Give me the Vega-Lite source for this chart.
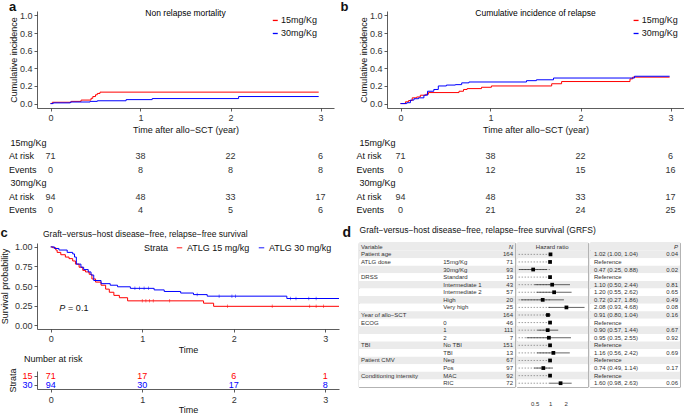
{
"$schema": "https://vega.github.io/schema/vega-lite/v6.json",
"background": "white",
"padding": {"left": 0, "top": 1, "right": 0, "bottom": 0},
"config": {
  "font": "Liberation Sans",
  "view": {"stroke": null},
  "axis": {"labelFontSize": 9, "titleFontSize": 9, "titleFontWeight": "normal", "labelColor": "#333", "titleColor": "#111", "domainColor": "#333", "tickColor": "#333", "tickSize": 3, "labelPadding": 2, "grid": false, "domainWidth": 0.8, "tickWidth": 0.8, "labelOverlap": false},
  "legend": {"labelFontSize": 9, "titleFontSize": 9, "titleFontWeight": "normal", "labelColor": "#111", "titleColor": "#111"},
  "title": {"color": "#111"}
},
"datasets": {
  "nrm": [
    {"g":"15mg/Kg","t":0,"v":0},{"g":"15mg/Kg","t":0.02,"v":0.015},{"g":"15mg/Kg","t":0.23,"v":0.025},{"g":"15mg/Kg","t":0.34,"v":0.04},{"g":"15mg/Kg","t":0.45,"v":0.06},{"g":"15mg/Kg","t":0.47,"v":0.08},{"g":"15mg/Kg","t":0.5,"v":0.1},{"g":"15mg/Kg","t":0.52,"v":0.115},{"g":"15mg/Kg","t":0.55,"v":0.13},{"g":"15mg/Kg","t":2.98,"v":0.13},
    {"g":"30mg/Kg","t":0,"v":0},{"g":"30mg/Kg","t":0.03,"v":0.008},{"g":"30mg/Kg","t":0.22,"v":0.018},{"g":"30mg/Kg","t":0.44,"v":0.025},{"g":"30mg/Kg","t":0.52,"v":0.032},{"g":"30mg/Kg","t":0.84,"v":0.045},{"g":"30mg/Kg","t":1.13,"v":0.057},{"g":"30mg/Kg","t":2.09,"v":0.08},{"g":"30mg/Kg","t":2.98,"v":0.08}
  ],
  "cir": [
    {"g":"15mg/Kg","t":0,"v":0},{"g":"15mg/Kg","t":0.055,"v":0.02},{"g":"15mg/Kg","t":0.09,"v":0.035},{"g":"15mg/Kg","t":0.13,"v":0.065},{"g":"15mg/Kg","t":0.18,"v":0.075},{"g":"15mg/Kg","t":0.22,"v":0.095},{"g":"15mg/Kg","t":0.28,"v":0.105},{"g":"15mg/Kg","t":0.31,"v":0.125},{"g":"15mg/Kg","t":0.65,"v":0.14},{"g":"15mg/Kg","t":0.7,"v":0.16},{"g":"15mg/Kg","t":0.74,"v":0.17},{"g":"15mg/Kg","t":0.9,"v":0.185},{"g":"15mg/Kg","t":1.01,"v":0.2},{"g":"15mg/Kg","t":1.68,"v":0.225},{"g":"15mg/Kg","t":1.79,"v":0.25},{"g":"15mg/Kg","t":2.55,"v":0.28},{"g":"15mg/Kg","t":2.58,"v":0.3},{"g":"15mg/Kg","t":2.99,"v":0.3},
    {"g":"30mg/Kg","t":0,"v":0},{"g":"30mg/Kg","t":0.07,"v":0.01},{"g":"30mg/Kg","t":0.11,"v":0.04},{"g":"30mg/Kg","t":0.15,"v":0.055},{"g":"30mg/Kg","t":0.2,"v":0.065},{"g":"30mg/Kg","t":0.26,"v":0.095},{"g":"30mg/Kg","t":0.3,"v":0.14},{"g":"30mg/Kg","t":0.37,"v":0.16},{"g":"30mg/Kg","t":0.42,"v":0.2},{"g":"30mg/Kg","t":0.51,"v":0.21},{"g":"30mg/Kg","t":0.61,"v":0.215},{"g":"30mg/Kg","t":0.68,"v":0.235},{"g":"30mg/Kg","t":0.76,"v":0.245},{"g":"30mg/Kg","t":1.4,"v":0.26},{"g":"30mg/Kg","t":1.51,"v":0.27},{"g":"30mg/Kg","t":1.7,"v":0.29},{"g":"30mg/Kg","t":2.6,"v":0.31},{"g":"30mg/Kg","t":2.99,"v":0.31}
  ],
  "riskA": [
    {"row":"h15","label":"15mg/Kg"},
    {"row":"r15","rl":"At risk"},{"row":"e15","rl":"Events"},{"row":"r30","rl":"At risk"},{"row":"e30","rl":"Events"},
    {"row":"r15","t":0,"n":71},{"row":"r15","t":1,"n":38},{"row":"r15","t":2,"n":22},{"row":"r15","t":3,"n":6},
    {"row":"e15","t":0,"n":0},{"row":"e15","t":1,"n":8},{"row":"e15","t":2,"n":8},{"row":"e15","t":3,"n":8},
    {"row":"h30","label":"30mg/Kg"},
    {"row":"r30","t":0,"n":94},{"row":"r30","t":1,"n":48},{"row":"r30","t":2,"n":33},{"row":"r30","t":3,"n":17},
    {"row":"e30","t":0,"n":0},{"row":"e30","t":1,"n":4},{"row":"e30","t":2,"n":5},{"row":"e30","t":3,"n":6}
  ],
  "riskB": [
    {"row":"h15","label":"15mg/Kg"},
    {"row":"r15","rl":"At risk"},{"row":"e15","rl":"Events"},{"row":"r30","rl":"At risk"},{"row":"e30","rl":"Events"},
    {"row":"r15","t":0,"n":71},{"row":"r15","t":1,"n":38},{"row":"r15","t":2,"n":22},{"row":"r15","t":3,"n":6},
    {"row":"e15","t":0,"n":0},{"row":"e15","t":1,"n":12},{"row":"e15","t":2,"n":15},{"row":"e15","t":3,"n":16},
    {"row":"h30","label":"30mg/Kg"},
    {"row":"r30","t":0,"n":94},{"row":"r30","t":1,"n":48},{"row":"r30","t":2,"n":33},{"row":"r30","t":3,"n":17},
    {"row":"e30","t":0,"n":0},{"row":"e30","t":1,"n":21},{"row":"e30","t":2,"n":24},{"row":"e30","t":3,"n":25}
  ],
  "grfs": [
    {"g":"ATLG 15 mg/kg","t":0,"v":1},{"g":"ATLG 15 mg/kg","t":0.02,"v":0.99},{"g":"ATLG 15 mg/kg","t":0.055,"v":0.96},{"g":"ATLG 15 mg/kg","t":0.07,"v":0.93},{"g":"ATLG 15 mg/kg","t":0.11,"v":0.9},{"g":"ATLG 15 mg/kg","t":0.16,"v":0.87},{"g":"ATLG 15 mg/kg","t":0.2,"v":0.85},{"g":"ATLG 15 mg/kg","t":0.24,"v":0.82},{"g":"ATLG 15 mg/kg","t":0.27,"v":0.78},{"g":"ATLG 15 mg/kg","t":0.31,"v":0.74},{"g":"ATLG 15 mg/kg","t":0.35,"v":0.7},{"g":"ATLG 15 mg/kg","t":0.38,"v":0.68},{"g":"ATLG 15 mg/kg","t":0.42,"v":0.65},{"g":"ATLG 15 mg/kg","t":0.45,"v":0.59},{"g":"ATLG 15 mg/kg","t":0.49,"v":0.55},{"g":"ATLG 15 mg/kg","t":0.55,"v":0.51},{"g":"ATLG 15 mg/kg","t":0.6,"v":0.46},{"g":"ATLG 15 mg/kg","t":0.64,"v":0.42},{"g":"ATLG 15 mg/kg","t":0.69,"v":0.38},{"g":"ATLG 15 mg/kg","t":0.75,"v":0.35},{"g":"ATLG 15 mg/kg","t":0.84,"v":0.31},{"g":"ATLG 15 mg/kg","t":1.67,"v":0.28},{"g":"ATLG 15 mg/kg","t":1.78,"v":0.24},{"g":"ATLG 15 mg/kg","t":3.15,"v":0.24},
    {"g":"ATLG 30 mg/kg","t":0,"v":1},{"g":"ATLG 30 mg/kg","t":0.04,"v":0.98},{"g":"ATLG 30 mg/kg","t":0.09,"v":0.96},{"g":"ATLG 30 mg/kg","t":0.18,"v":0.93},{"g":"ATLG 30 mg/kg","t":0.24,"v":0.91},{"g":"ATLG 30 mg/kg","t":0.26,"v":0.87},{"g":"ATLG 30 mg/kg","t":0.28,"v":0.78},{"g":"ATLG 30 mg/kg","t":0.33,"v":0.74},{"g":"ATLG 30 mg/kg","t":0.36,"v":0.71},{"g":"ATLG 30 mg/kg","t":0.41,"v":0.68},{"g":"ATLG 30 mg/kg","t":0.44,"v":0.64},{"g":"ATLG 30 mg/kg","t":0.47,"v":0.57},{"g":"ATLG 30 mg/kg","t":0.55,"v":0.53},{"g":"ATLG 30 mg/kg","t":0.65,"v":0.51},{"g":"ATLG 30 mg/kg","t":0.73,"v":0.49},{"g":"ATLG 30 mg/kg","t":0.87,"v":0.47},{"g":"ATLG 30 mg/kg","t":1.13,"v":0.45},{"g":"ATLG 30 mg/kg","t":1.24,"v":0.43},{"g":"ATLG 30 mg/kg","t":1.42,"v":0.41},{"g":"ATLG 30 mg/kg","t":1.56,"v":0.39},{"g":"ATLG 30 mg/kg","t":1.71,"v":0.37},{"g":"ATLG 30 mg/kg","t":2.58,"v":0.34},{"g":"ATLG 30 mg/kg","t":3.15,"v":0.34}
  ],
  "cens": [
    {"g":"ATLG 15 mg/kg","t":1.0,"v":0.31},{"g":"ATLG 15 mg/kg","t":1.04,"v":0.31},{"g":"ATLG 15 mg/kg","t":1.08,"v":0.31},{"g":"ATLG 15 mg/kg","t":1.12,"v":0.31},{"g":"ATLG 15 mg/kg","t":1.3,"v":0.31},{"g":"ATLG 15 mg/kg","t":1.93,"v":0.24},{"g":"ATLG 15 mg/kg","t":2.42,"v":0.24},{"g":"ATLG 15 mg/kg","t":2.83,"v":0.24},{"g":"ATLG 15 mg/kg","t":2.9,"v":0.24},{"g":"ATLG 15 mg/kg","t":2.98,"v":0.24},
    {"g":"ATLG 30 mg/kg","t":0.92,"v":0.47},{"g":"ATLG 30 mg/kg","t":0.97,"v":0.47},{"g":"ATLG 30 mg/kg","t":1.02,"v":0.47},{"g":"ATLG 30 mg/kg","t":1.07,"v":0.47},{"g":"ATLG 30 mg/kg","t":1.6,"v":0.39},{"g":"ATLG 30 mg/kg","t":1.84,"v":0.37},{"g":"ATLG 30 mg/kg","t":1.98,"v":0.37},{"g":"ATLG 30 mg/kg","t":2.02,"v":0.37},{"g":"ATLG 30 mg/kg","t":2.62,"v":0.34},{"g":"ATLG 30 mg/kg","t":2.68,"v":0.34},{"g":"ATLG 30 mg/kg","t":2.82,"v":0.34},{"g":"ATLG 30 mg/kg","t":2.9,"v":0.34}
  ],
  "riskC": [
    {"s":"15","t":0,"n":71},{"s":"15","t":1,"n":17},{"s":"15","t":2,"n":6},{"s":"15","t":3,"n":1},
    {"s":"30","t":0,"n":94},{"s":"30","t":1,"n":30},{"s":"30","t":2,"n":17},{"s":"30","t":3,"n":8}
  ],
  "forest": [
    {"id":0,"var":"Variable","level":"","n":"","hr":null,"lo":null,"hi":null,"hrtext":"","p":""},
    {"id":1,"var":"Patient age","level":"","n":"164","hr":1.02,"lo":1.0,"hi":1.04,"hrtext":"1.02 (1.00, 1.04)","p":"0.04"},
    {"id":2,"var":"ATLG dose","level":"15mg/Kg","n":"71","hr":1,"lo":null,"hi":null,"hrtext":"Reference","p":""},
    {"id":3,"var":"","level":"30mg/Kg","n":"93","hr":0.47,"lo":0.25,"hi":0.88,"hrtext":"0.47 (0.25, 0.88)","p":"0.02"},
    {"id":4,"var":"DRSS","level":"Standard","n":"19","hr":1,"lo":null,"hi":null,"hrtext":"Reference","p":""},
    {"id":5,"var":"","level":"Intermediate 1","n":"43","hr":1.10,"lo":0.50,"hi":2.44,"hrtext":"1.10 (0.50, 2.44)","p":"0.81"},
    {"id":6,"var":"","level":"Intermediate 2","n":"57","hr":1.20,"lo":0.55,"hi":2.62,"hrtext":"1.20 (0.55, 2.62)","p":"0.65"},
    {"id":7,"var":"","level":"High","n":"20","hr":0.72,"lo":0.27,"hi":1.86,"hrtext":"0.72 (0.27, 1.86)","p":"0.49"},
    {"id":8,"var":"","level":"Very high","n":"25","hr":2.08,"lo":0.93,"hi":4.68,"hrtext":"2.08 (0.93, 4.68)","p":"0.08"},
    {"id":9,"var":"Year of allo−SCT","level":"","n":"164","hr":0.91,"lo":0.80,"hi":1.04,"hrtext":"0.91 (0.80, 1.04)","p":"0.16"},
    {"id":10,"var":"ECOG","level":"0","n":"46","hr":1,"lo":null,"hi":null,"hrtext":"Reference","p":""},
    {"id":11,"var":"","level":"1","n":"111","hr":0.90,"lo":0.57,"hi":1.44,"hrtext":"0.90 (0.57, 1.44)","p":"0.67"},
    {"id":12,"var":"","level":"2","n":"7","hr":0.95,"lo":0.35,"hi":2.55,"hrtext":"0.95 (0.35, 2.55)","p":"0.92"},
    {"id":13,"var":"TBI","level":"No TBI","n":"151","hr":1,"lo":null,"hi":null,"hrtext":"Reference","p":""},
    {"id":14,"var":"","level":"TBI","n":"13","hr":1.16,"lo":0.56,"hi":2.42,"hrtext":"1.16 (0.56, 2.42)","p":"0.69"},
    {"id":15,"var":"Patient CMV","level":"Neg","n":"67","hr":1,"lo":null,"hi":null,"hrtext":"Reference","p":""},
    {"id":16,"var":"","level":"Pos","n":"97","hr":0.74,"lo":0.49,"hi":1.14,"hrtext":"0.74 (0.49, 1.14)","p":"0.17"},
    {"id":17,"var":"Conditioning intensity","level":"MAC","n":"92","hr":1,"lo":null,"hi":null,"hrtext":"Reference","p":""},
    {"id":18,"var":"","level":"RIC","n":"72","hr":1.60,"lo":0.98,"hi":2.63,"hrtext":"1.60 (0.98, 2.63)","p":"0.06"}
  ]
},
"align": "none",
"spacing": 8,
"resolve": {"scale": {"color": "independent"}, "legend": {"color": "independent"}},
"vconcat": [
 {
  "hconcat": [
   {
    "title": {"text": "a", "anchor": "start", "frame": "bounds", "fontSize": 13, "fontWeight": "bold", "offset": -5.5, "dx": 0},
    "spacing": 2,
    "resolve": {"scale": {"color": "independent"}, "legend": {"color": "independent"}},
    "vconcat": [
     {
      "width": 297, "height": 97,
      "layer": [
       {"data": {"name": "nrm"},
        "mark": {"type": "line", "interpolate": "step-after", "strokeWidth": 1},
        "encoding": {
          "x": {"field": "t", "type": "quantitative", "scale": {"domain": [-0.15, 3.15], "nice": false, "zero": false}, "axis": {"values": [0,1,2,3], "tickCount": 10, "format": "d", "title": "Time after allo−SCT (year)", "titlePadding": 3}},
          "y": {"field": "v", "type": "quantitative", "scale": {"domain": [-0.05, 1.05], "nice": false, "zero": false}, "axis": {"values": [0,0.2,0.4,0.6,0.8,1], "tickCount": 10, "format": ".1f", "title": "Cumulative incidence", "titlePadding": 1}},
          "color": {"field": "g", "type": "nominal", "scale": {"domain": ["15mg/Kg","30mg/Kg"], "range": ["#FF0000","#0000FF"]}, "legend": null}
        }},
       {"data": {"values": [{"l": "Non relapse mortality"}]},
        "mark": {"type": "text", "fontSize": 8.5},
        "encoding": {"x": {"datum": 1.5}, "y": {"datum": 1.03}, "text": {"field": "l"}}},
       {"data": {"values": [{"l": "15mg/Kg"}]}, "mark": {"type": "rule", "color": "#FF0000", "strokeWidth": 1.3}, "encoding": {"x": {"datum": 2.47}, "x2": {"datum": 2.525}, "y": {"datum": 0.943}}},
       {"data": {"values": [{"l": "30mg/Kg"}]}, "mark": {"type": "rule", "color": "#0000FF", "strokeWidth": 1.3}, "encoding": {"x": {"datum": 2.47}, "x2": {"datum": 2.525}, "y": {"datum": 0.795}}},
       {"data": {"values": [{"l": "15mg/Kg"}]}, "mark": {"type": "text", "align": "left", "fontSize": 9, "color": "#111"}, "encoding": {"x": {"datum": 2.56}, "y": {"datum": 0.943}, "text": {"field": "l"}}},
       {"data": {"values": [{"l": "30mg/Kg"}]}, "mark": {"type": "text", "align": "left", "fontSize": 9, "color": "#111"}, "encoding": {"x": {"datum": 2.56}, "y": {"datum": 0.795}, "text": {"field": "l"}}}
      ]
     },
     {
      "width": 297, "height": 81,
      "data": {"name": "riskA"},
      "layer": [
       {"transform": [{"filter": "datum.n != null"}],
        "mark": {"type": "text", "fontSize": 9, "color": "#333"},
        "encoding": {
          "x": {"field": "t", "type": "quantitative", "scale": {"domain": [-0.15, 3.15], "nice": false, "zero": false}, "axis": null},
          "y": {"field": "row", "type": "nominal", "scale": {"type": "point", "domain": ["h15","r15","e15","h30","r30","e30"], "padding": 0.5}, "axis": null},
          "text": {"field": "n"}
        }},
       {"transform": [{"filter": "datum.label != null"}],
        "mark": {"type": "text", "fontSize": 9, "align": "right", "dx": -4, "color": "#111"},
        "encoding": {"x": {"datum": 0}, "y": {"field": "row", "type": "nominal"}, "text": {"field": "label"}}},
       {"transform": [{"filter": "datum.rl != null"}],
        "mark": {"type": "text", "fontSize": 9, "align": "left", "color": "#111"},
        "encoding": {"x": {"datum": -0.46}, "y": {"field": "row", "type": "nominal"}, "text": {"field": "rl"}}}
      ]
     }
    ]
   },
   {
    "title": {"text": "b", "anchor": "start", "frame": "bounds", "fontSize": 13, "fontWeight": "bold", "offset": -5.5, "dx": -16},
    "spacing": 2,
    "resolve": {"scale": {"color": "independent"}, "legend": {"color": "independent"}},
    "vconcat": [
     {
      "width": 297, "height": 97,
      "layer": [
       {"data": {"name": "cir"},
        "mark": {"type": "line", "interpolate": "step-after", "strokeWidth": 1},
        "encoding": {
          "x": {"field": "t", "type": "quantitative", "scale": {"domain": [-0.15, 3.15], "nice": false, "zero": false}, "axis": {"values": [0,1,2,3], "tickCount": 10, "format": "d", "title": "Time after allo−SCT (year)", "titlePadding": 3}},
          "y": {"field": "v", "type": "quantitative", "scale": {"domain": [-0.05, 1.05], "nice": false, "zero": false}, "axis": {"values": [0,0.2,0.4,0.6,0.8,1], "tickCount": 10, "format": ".1f", "title": "Cumulative incidence", "titlePadding": 1}},
          "color": {"field": "g", "type": "nominal", "scale": {"domain": ["15mg/Kg","30mg/Kg"], "range": ["#FF0000","#0000FF"]}, "legend": null}
        }},
       {"data": {"values": [{"l": "Cumulative incidence of relapse"}]},
        "mark": {"type": "text", "fontSize": 8.5},
        "encoding": {"x": {"datum": 1.5}, "y": {"datum": 1.03}, "text": {"field": "l"}}},
       {"data": {"values": [{"l": "15mg/Kg"}]}, "mark": {"type": "rule", "color": "#FF0000", "strokeWidth": 1.3}, "encoding": {"x": {"datum": 2.59}, "x2": {"datum": 2.645}, "y": {"datum": 0.943}}},
       {"data": {"values": [{"l": "30mg/Kg"}]}, "mark": {"type": "rule", "color": "#0000FF", "strokeWidth": 1.3}, "encoding": {"x": {"datum": 2.59}, "x2": {"datum": 2.645}, "y": {"datum": 0.795}}},
       {"data": {"values": [{"l": "15mg/Kg"}]}, "mark": {"type": "text", "align": "left", "fontSize": 9, "color": "#111"}, "encoding": {"x": {"datum": 2.68}, "y": {"datum": 0.943}, "text": {"field": "l"}}},
       {"data": {"values": [{"l": "30mg/Kg"}]}, "mark": {"type": "text", "align": "left", "fontSize": 9, "color": "#111"}, "encoding": {"x": {"datum": 2.68}, "y": {"datum": 0.795}, "text": {"field": "l"}}}
      ]
     },
     {
      "width": 297, "height": 81,
      "data": {"name": "riskB"},
      "layer": [
       {"transform": [{"filter": "datum.n != null"}],
        "mark": {"type": "text", "fontSize": 9, "color": "#333"},
        "encoding": {
          "x": {"field": "t", "type": "quantitative", "scale": {"domain": [-0.15, 3.15], "nice": false, "zero": false}, "axis": null},
          "y": {"field": "row", "type": "nominal", "scale": {"type": "point", "domain": ["h15","r15","e15","h30","r30","e30"], "padding": 0.5}, "axis": null},
          "text": {"field": "n"}
        }},
       {"transform": [{"filter": "datum.label != null"}],
        "mark": {"type": "text", "fontSize": 9, "align": "right", "dx": -5, "color": "#111"},
        "encoding": {"x": {"datum": 0}, "y": {"field": "row", "type": "nominal"}, "text": {"field": "label"}}},
       {"transform": [{"filter": "datum.rl != null"}],
        "mark": {"type": "text", "fontSize": 9, "align": "left", "color": "#111"},
        "encoding": {"x": {"datum": -0.49}, "y": {"field": "row", "type": "nominal"}, "text": {"field": "rl"}}}
      ]
     }
    ]
   }
  ],
  "spacing": 6,
  "resolve": {"scale": {"color": "independent"}, "legend": {"color": "independent"}}
 },
 {
  "hconcat": [
   {
    "title": {"text": "c", "anchor": "start", "frame": "bounds", "fontSize": 13, "fontWeight": "bold", "offset": -13, "dx": 0, "dy": -3},
    "spacing": 0,
    "resolve": {"scale": {"color": "independent"}, "legend": {"color": "independent"}},
    "vconcat": [
     {
      "width": 302, "height": 86,
      "title": {"text": "Graft−versus−host disease−free, relapse−free survival", "anchor": "start", "frame": "group", "dx": 6, "fontSize": 8.5, "fontWeight": "normal", "offset": 4.5},
      "layer": [
       {"data": {"name": "grfs"},
        "mark": {"type": "line", "interpolate": "step-after", "strokeWidth": 1},
        "encoding": {
          "x": {"field": "t", "type": "quantitative", "scale": {"domain": [-0.15, 3.15], "nice": false, "zero": false}, "axis": {"values": [0,1,2,3], "tickCount": 10, "format": "d", "title": "Time", "titlePadding": 2}},
          "y": {"field": "v", "type": "quantitative", "scale": {"domain": [-0.05, 1.05], "nice": false, "zero": false}, "axis": {"values": [0,0.25,0.5,0.75,1], "tickCount": 10, "format": ".2f", "title": "Survival probability", "titlePadding": 5}},
          "color": {"field": "g", "type": "nominal", "scale": {"domain": ["ATLG 15 mg/kg","ATLG 30 mg/kg"], "range": ["#FF0000","#0000FF"]}, "legend": {"title": "Strata", "titleOrient": "left", "direction": "horizontal", "orient": "none", "legendX": 107, "legendY": 0, "symbolType": "stroke", "symbolSize": 30, "symbolStrokeWidth": 1.3, "labelOffset": 3, "columnPadding": 6, "titlePadding": 6}}
        }},
       {"data": {"name": "cens"},
        "mark": {"type": "tick", "orient": "vertical", "size": 3.5, "thickness": 0.7},
        "encoding": {"x": {"field": "t", "type": "quantitative"}, "y": {"field": "v", "type": "quantitative"}, "color": {"field": "g", "type": "nominal"}}},
       {"data": {"values": [{"l": "P"}]},
        "mark": {"type": "text", "fontSize": 9, "fontStyle": "italic", "align": "right", "color": "#111"},
        "encoding": {"x": {"datum": 0.16}, "y": {"datum": 0.22}, "text": {"field": "l"}}},
       {"data": {"values": [{"l": "= 0.1"}]},
        "mark": {"type": "text", "fontSize": 9, "align": "left", "color": "#111"},
        "encoding": {"x": {"datum": 0.19}, "y": {"datum": 0.22}, "text": {"field": "l"}}}
      ]
     },
     {
      "width": 302, "height": 18,
      "title": {"text": "Number at risk", "anchor": "start", "frame": "group", "dx": -13, "fontSize": 9, "fontWeight": "normal", "offset": 4},
      "data": {"name": "riskC"},
      "mark": {"type": "text", "fontSize": 9},
      "encoding": {
        "x": {"field": "t", "type": "quantitative", "scale": {"domain": [-0.15, 3.15], "nice": false, "zero": false}, "axis": {"values": [0,1,2,3], "tickCount": 10, "format": "d", "title": "Time", "labelPadding": 3, "titlePadding": 1.5}},
        "y": {"field": "s", "type": "nominal", "scale": {"type": "point", "domain": ["15","30"], "padding": 0.5}, "axis": {"title": "Strata", "titlePadding": 4, "labelColor": {"condition": {"test": "datum.value == '15'", "value": "#FF0000"}, "value": "#0000FF"}}},
        "color": {"field": "s", "type": "nominal", "scale": {"domain": ["15","30"], "range": ["#FF0000","#0000FF"]}, "legend": null},
        "text": {"field": "n"}
      }
     }
    ]
   },
   {
    "title": {"text": "d", "anchor": "start", "frame": "bounds", "fontSize": 14, "fontWeight": "bold", "dx": -16, "offset": -14},
    "resolve": {"scale": {"color": "independent"}, "legend": {"color": "independent"}},
    "vconcat": [
     {
      "title": {"text": "Graft−versus−host disease−free, relapse−free survival (GRFS)", "anchor": "start", "frame": "bounds", "dx": 1, "dy": 4, "fontSize": 8.5, "fontWeight": "normal", "offset": 12.5},
      "spacing": 0,
      "resolve": {"scale": {"color": "independent"}, "legend": {"color": "independent"}},
      "hconcat": [
       {
        "width": 156, "height": 144,
        "view": {"stroke": "#888", "strokeWidth": 0.8},
        "data": {"name": "forest"},
        "encoding": {"y": {"field": "id", "type": "ordinal", "scale": {"type": "band", "paddingInner": 0, "paddingOuter": 0}, "axis": null}},
        "layer": [
         {"mark": {"type": "rect"}, "encoding": {"color": {"condition": {"test": "datum.id % 2 == 1 || datum.id == 0", "value": "#EBEBEB"}, "value": "#FFFFFF"}}},
         {"mark": {"type": "text", "align": "left", "dx": 2, "fontSize": 6, "color": "#333"}, "encoding": {"x": {"datum": 0, "type": "quantitative", "scale": {"domain": [0, 1]}, "axis": null}, "text": {"field": "var"}}},
         {"mark": {"type": "text", "align": "left", "fontSize": 6, "color": "#333"}, "encoding": {"x": {"datum": 0.54}, "text": {"field": "level"}}},
         {"transform": [{"filter": "datum.id > 0"}], "mark": {"type": "text", "align": "right", "dx": -2, "fontSize": 6, "color": "#333"}, "encoding": {"x": {"datum": 1}, "text": {"field": "n"}}},
         {"transform": [{"filter": "datum.id == 0"}], "mark": {"type": "text", "align": "right", "dx": -2, "fontSize": 6, "fontStyle": "italic", "color": "#333"}, "encoding": {"x": {"datum": 1}, "text": {"value": "N"}}}
        ]
       },
       {
        "width": 71, "height": 144,
        "view": {"stroke": "#888", "strokeWidth": 0.8},
        "data": {"name": "forest"},
        "encoding": {"y": {"field": "id", "type": "ordinal", "scale": {"type": "band", "paddingInner": 0, "paddingOuter": 0}, "axis": null}},
        "layer": [
         {"mark": {"type": "rect"}, "encoding": {"color": {"condition": {"test": "datum.id % 2 == 1 || datum.id == 0", "value": "#EBEBEB"}, "value": "#FFFFFF"}}},
         {"mark": {"type": "rule", "color": "#777", "strokeDash": [1.5, 1.5], "strokeWidth": 0.7}, "encoding": {"x": {"datum": 1}}},
         {"transform": [{"filter": "datum.id == 0"}], "mark": {"type": "rect"}, "encoding": {"color": {"value": "#EBEBEB"}}},
         {"transform": [{"filter": "isValid(datum.lo)"}], "mark": {"type": "rule", "color": "#222", "strokeWidth": 0.7}, "encoding": {"x": {"field": "lo", "type": "quantitative"}, "x2": {"field": "hi"}}},
         {"transform": [{"filter": "datum.id > 0"}], "mark": {"type": "point", "shape": "square", "filled": true, "color": "#000", "size": 14, "opacity": 1},
          "encoding": {"x": {"field": "hr", "type": "quantitative", "scale": {"type": "log", "domain": [0.228, 5.46], "nice": false}, "axis": {"values": [0.5, 1, 2], "tickCount": 10, "labelExpr": "datum.value == 0.5 ? '0.5' : format(datum.value, 'd')", "domain": false, "ticks": false, "labelPadding": 13, "labelFontSize": 6, "title": null}}}},
         {"transform": [{"filter": "datum.id == 0"}], "mark": {"type": "text", "fontSize": 6, "color": "#333"}, "encoding": {"x": {"datum": 1.1}, "text": {"value": "Hazard ratio"}}}
        ]
       },
       {
        "width": 90, "height": 144,
        "view": {"stroke": "#888", "strokeWidth": 0.8},
        "data": {"name": "forest"},
        "encoding": {"y": {"field": "id", "type": "ordinal", "scale": {"type": "band", "paddingInner": 0, "paddingOuter": 0}, "axis": null}},
        "layer": [
         {"mark": {"type": "rect"}, "encoding": {"color": {"condition": {"test": "datum.id % 2 == 1 || datum.id == 0", "value": "#EBEBEB"}, "value": "#FFFFFF"}}},
         {"mark": {"type": "text", "align": "left", "dx": 4, "fontSize": 6, "color": "#333"}, "encoding": {"x": {"datum": 0, "type": "quantitative", "scale": {"domain": [0, 1]}, "axis": null}, "text": {"field": "hrtext"}}},
         {"transform": [{"filter": "datum.id > 0"}], "mark": {"type": "text", "align": "right", "dx": -2, "fontSize": 6, "color": "#333"}, "encoding": {"x": {"datum": 1}, "text": {"field": "p"}}},
         {"transform": [{"filter": "datum.id == 0"}], "mark": {"type": "text", "align": "right", "dx": -2, "fontSize": 6, "fontStyle": "italic", "color": "#333"}, "encoding": {"x": {"datum": 1}, "text": {"value": "P"}}}
        ]
       }
      ]
     }
    ]
   }
  ],
  "spacing": 1,
  "resolve": {"scale": {"color": "independent"}, "legend": {"color": "independent"}}
 }
]
}
